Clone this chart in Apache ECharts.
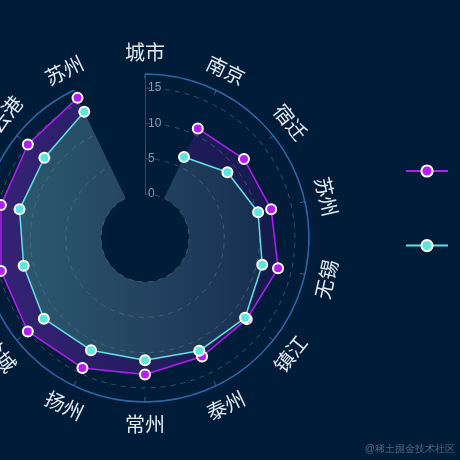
<!DOCTYPE html>
<html>
<head>
<meta charset="utf-8">
<style>
  html, body { margin: 0; padding: 0; background: #011c39; }
  #chart { width: 460px; height: 460px; }
</style>
<script src="https://cdn.jsdelivr.net/npm/echarts@6/dist/echarts.min.js"></script>
</head>
<body>
<div id="chart"></div>
<script>
// 城市（角度轴）
var cities = ['城市', '南京', '宿迁', '苏州', '无锡', '镇江', '泰州', '常州', '扬州', '盐城', '淮安', '徐州', '连云港', '苏州'];
// 两组数据，第一项“城市”为表头，不画点
var seriesNames = ['2022年', '2021年'];
var purpleData = ['-', 11, 11.7, 12.1, 13.1, 12.2, 12.4, 13.1, 14.2, 15, 14.7, 14.7, 15, 15.8];
var tealData = ['-', 6.5, 8.7, 10.2, 10.8, 11.9, 11.5, 11.1, 11.4, 12.1, 11.4, 12, 12, 13.6];
// 半径轴刻度
var radiusMax = 17;
var radiusStep = 5;

var myChart = echarts.init(document.getElementById('chart'));

/************************************************************************************/
// 角度轴文字：沿圆周切向旋转，用custom系列画
/************************************************************************************/
var renderCityLabel = function (params, api) {
    var cs = params.coordSys;
    var p = api.coord([0, api.value(1)]);
    var dx = p[0] - cs.cx;
    var dy = p[1] - cs.cy;
    var len = Math.sqrt(dx * dx + dy * dy) || 1;
    var ux = dx / len, uy = dy / len;
    var theta = Math.atan2(ux, -uy);
    if (theta < 0) theta += Math.PI * 2;
    var rot = (theta > Math.PI / 2 + 1e-6 && theta < Math.PI * 1.5 - 1e-6) ? Math.PI - theta : -theta;
    var r = cs.r + 22;
    return {
        type: 'text',
        x: cs.cx + ux * r,
        y: cs.cy + uy * r,
        rotation: rot,
        style: {
            text: cities[params.dataIndex],
            fill: '#e2e9f1',
            fontSize: 20,
            fontFamily: 'Noto Sans CJK SC',
            align: 'center',
            verticalAlign: 'middle'
        }
    };
};

var option = {
    backgroundColor: '#011c39',
    legend: {
        orient: 'vertical',
        left: 400,
        top: 159,
        itemWidth: 42,
        itemHeight: 14,
        itemGap: 61,
        data: seriesNames,
        formatter: function () { return ''; }
    },
    // 0: 数据用的环形坐标; 1: 只画外圈和刻度
    polar: [
        { center: [145, 238], radius: [44, 164] },
        { center: [145, 238], radius: [0, 164] }
    ],
    angleAxis: [
        {
            polarIndex: 0,
            type: 'category',
            data: cities,
            boundaryGap: false,
            startAngle: 90,
            clockwise: true,
            axisLine: { show: false },
            axisTick: { show: false },
            axisLabel: { show: false },
            splitLine: { show: false }
        },
        {
            polarIndex: 1,
            type: 'category',
            data: cities,
            boundaryGap: false,
            startAngle: 90,
            clockwise: true,
            axisLine: { lineStyle: { color: '#2c66a6', width: 1.5 } },
            axisTick: { inside: true, length: 5, lineStyle: { color: '#2c66a6' } },
            axisLabel: { show: false },
            splitLine: { show: false }
        }
    ],
    radiusAxis: [
        {
            polarIndex: 0,
            type: 'value',
            min: 0,
            max: radiusMax,
            interval: radiusStep,
            axisLine: { lineStyle: { color: '#2e4b6a' } },
            axisTick: { show: false },
            axisLabel: { color: '#8898ad', fontSize: 12, margin: -3, align: 'left', showMaxLabel: false },
            splitLine: { lineStyle: { color: 'rgba(255,255,255,0.22)', type: [5, 5] } }
        },
        {
            polarIndex: 1,
            type: 'value',
            show: false
        }
    ],
    series: [
        {
            name: seriesNames[0],
            type: 'line',
            coordinateSystem: 'polar',
            polarIndex: 0,
            data: purpleData,
            symbol: 'circle',
            symbolSize: 10,
            lineStyle: { color: '#b41ef2', width: 1.5 },
            itemStyle: { color: '#b41ef2', borderColor: '#fff', borderWidth: 2 },
            areaStyle: {
                color: new echarts.graphic.LinearGradient(0, 0, 1, 0, [
                    { offset: 0, color: 'rgba(150,45,230,0.5)' },
                    { offset: 1, color: 'rgba(160,20,220,0.17)' }
                ])
            }
        },
        {
            name: seriesNames[1],
            type: 'line',
            coordinateSystem: 'polar',
            polarIndex: 0,
            data: tealData,
            symbol: 'circle',
            symbolSize: 10,
            lineStyle: { color: '#5ee3e3', width: 1.5 },
            itemStyle: { color: '#5ee3e3', borderColor: '#fff', borderWidth: 2 },
            areaStyle: {
                color: new echarts.graphic.LinearGradient(0, 0, 1, 0, [
                    { offset: 0, color: 'rgba(33,178,104,0.55)' },
                    { offset: 1, color: 'rgba(30,180,100,0.19)' }
                ])
            }
        },
        {
            type: 'custom',
            coordinateSystem: 'polar',
            polarIndex: 0,
            silent: true,
            data: cities.map(function (c, i) { return [0, i]; }),
            renderItem: renderCityLabel
        }
    ],
    graphic: [{
        type: 'text',
        right: 5,
        bottom: 6,
        style: { text: '@稀土掘金技术社区', fill: '#56677e', fontSize: 10 }
    }]
};
myChart.setOption(option);
</script>
</body>
</html>
